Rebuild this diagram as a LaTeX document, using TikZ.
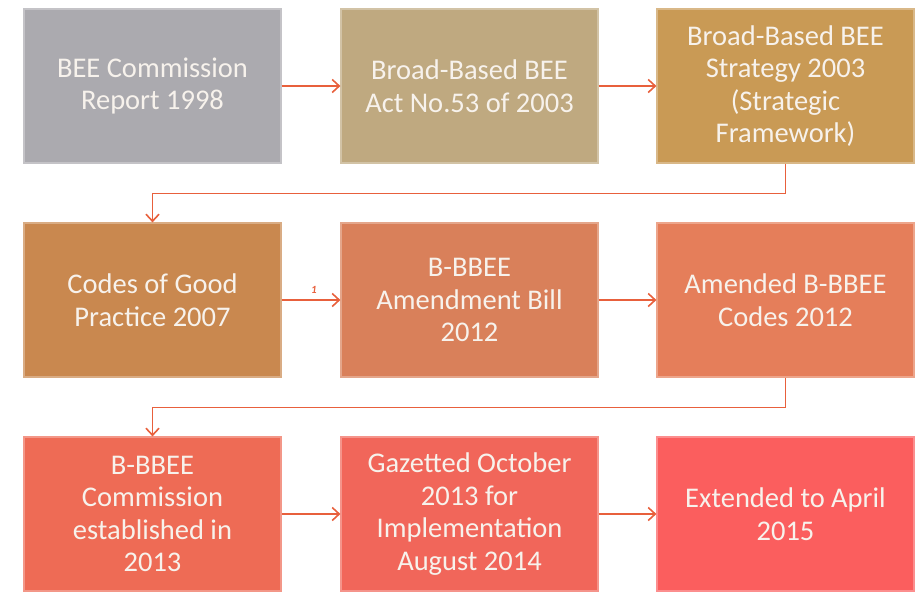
\documentclass[tikz,border=0pt]{standalone}
\usepackage{fontspec}
\setmainfont{Carlito}
\usetikzlibrary{arrows.meta}

\definecolor{grayBox}{HTML}{ABAAAF}
\definecolor{tanBox}{HTML}{BFA980}
\definecolor{goldBox}{HTML}{C99A55}
\definecolor{ochreBox}{HTML}{C9884F}
\definecolor{clayBox}{HTML}{D9805A}
\definecolor{coralBox}{HTML}{E57E5A}
\definecolor{salmonBox}{HTML}{EE6B55}
\definecolor{roseBox}{HTML}{F1665A}
\definecolor{redBox}{HTML}{FB5E5E}
\definecolor{flowLine}{HTML}{E8603C}
\definecolor{boxText}{HTML}{F7F2EC}

\tikzset{
  stepbox/.style={rectangle, minimum width=257pt, minimum height=154pt,
    inner sep=0pt, align=center, text=boxText, font=\fontsize{28.5}{32.5}\selectfont,
    draw=#1!70!white, line width=1.2pt, fill=#1},
  flow/.style={draw=flowLine, line width=1.6pt, -{Straight Barb[length=7pt,width=13pt,line width=1.6pt]}}
}

\begin{document}
\begin{tikzpicture}[x=1pt,y=-1pt]
    \useasboundingbox (0,0) rectangle (922,592);

    % Row 1
    \node[stepbox=grayBox] (report) at (152.5,86) {BEE Commission\\Report 1998};
    \node[stepbox=tanBox] (act) at (469.5,86) {Broad-Based BEE\\Act No.53 of 2003};
    \node[stepbox=goldBox] (strategy) at (785.5,86) {Broad-Based BEE\\Strategy 2003\\(Strategic\\Framework)};

    % Row 2
    \node[stepbox=ochreBox] (codes) at (152.5,300) {Codes of Good\\Practice 2007};
    \node[stepbox=clayBox] (bill) at (469.5,300) {B-BBEE\\Amendment Bill\\2012};
    \node[stepbox=coralBox] (amended) at (785.5,300) {Amended B-BBEE\\Codes 2012};

    % Row 3
    \node[stepbox=salmonBox] (commission) at (152.5,514) {B-BBEE\\Commission\\established in\\2013};
    \node[stepbox=roseBox] (gazetted) at (469.5,514) {Gazetted October\\2013 for\\Implementation\\August 2014};
    \node[stepbox=redBox] (extended) at (785.5,514) {Extended to April\\2015};

    % Connectors
    \draw[flow] (report) -- (act);
    \draw[flow] (act) -- (strategy);
    \draw[flow] (strategy.south) -- ++(0,30) -| (codes.north);
    \draw[flow] (codes) -- node[pos=0.55, above=2pt, text=flowLine, font=\fontsize{11}{11}\selectfont\bfseries\itshape] (one) {1} (bill);
    \draw[flow] (bill) -- (amended);
    \draw[flow] (amended.south) -- ++(0,30) -| (commission.north);
    \draw[flow] (commission) -- (gazetted);
    \draw[flow] (gazetted) -- (extended);
\end{tikzpicture}
\end{document}
